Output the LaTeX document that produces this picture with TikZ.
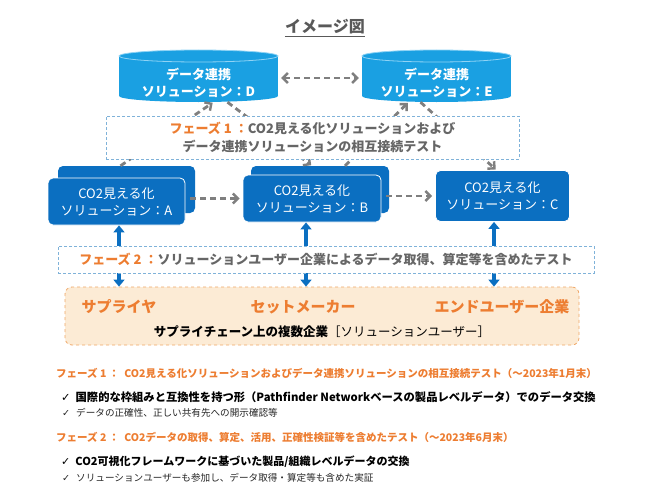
\documentclass[tikz,border=0pt]{standalone}
\usepackage{fontspec}
\setmainfont{Noto Sans CJK JP}
\newfontfamily\dejavu{DejaVu Sans}
\usetikzlibrary{arrows.meta}
\definecolor{cylblue}{HTML}{1AA0E2}
\definecolor{cylrim}{HTML}{8FD3F5}
\definecolor{boxblue}{HTML}{0B6FC1}
\definecolor{orng}{HTML}{ED7D31}
\definecolor{txtgray}{HTML}{666666}
\definecolor{titlegray}{HTML}{595959}
\definecolor{arrgray}{HTML}{7F7F7F}
\definecolor{phaseborder}{HTML}{7FB2D9}
\definecolor{scfill}{HTML}{FCEBD5}
\definecolor{scborder}{HTML}{F0A868}
\tikzset{
  cyltext/.style={text=white, font=\fontsize{13}{17}\selectfont\bfseries, align=center, minimum width=159pt, minimum height=38pt, inner sep=0pt},
  solbox/.style={fill=boxblue, rounded corners=5pt, text=white, align=center, font=\fontsize{13}{17}\selectfont, inner sep=0pt},
  frontbox/.style={solbox, draw=white, line width=0.8pt},
  phasebox/.style={draw=phaseborder, densely dashed, line width=0.6pt, fill=white, align=center, inner sep=0pt},
  graydash/.style={draw=arrgray, line width=2.8pt, dash pattern=on 6pt off 4pt, -{Straight Barb[length=5pt,width=10pt,line width=2.4pt]}},
  bluearr/.style={draw=boxblue, line width=3.2pt, {Triangle[length=7pt,width=11pt]}-{Triangle[length=7pt,width=11pt]}},
  sclabel/.style={text=orng, font=\fontsize{15}{18}\selectfont\bfseries, inner sep=0pt},
  lineleft/.style={anchor=west, inner sep=0pt},
}
\begin{document}
\begin{tikzpicture}[x=1pt,y=-1pt]
\useasboundingbox[fill=white] (0,0) rectangle (647,503);

% title
\node[text=titlegray, font=\fontsize{16}{18}\selectfont\bfseries, inner sep=0pt] (title) at (325,27) {イメージ図};
\draw[titlegray, line width=1pt] ([yshift=-4pt]title.base west) -- ([yshift=-4pt]title.base east);

% cylinders
\foreach \cx/\hw in {198.5/79.5, 436.5/74.5}{
  \fill[cylblue] (\cx-\hw,56) rectangle (\cx+\hw,96);
  \fill[cylblue] (\cx,96) ellipse [x radius=\hw, y radius=6];
  \filldraw[fill=cylblue, draw=cylrim, line width=0.8pt] (\cx,56) ellipse [x radius=\hw, y radius=6];
}
\node[cyltext] (D) at (198.5,83) {データ連携\\ソリューション：D};
\node[cyltext, minimum width=149pt] (E) at (436.5,83) {データ連携\\ソリューション：E};

% solution boxes
\node[solbox, minimum width=137pt, minimum height=47pt] (Aback) at (126.5,189.5) {};
\node[frontbox, minimum width=137pt, minimum height=47pt] (A) at (116.5,201.5) {CO2見える化\\ソリューション：A};
\node[solbox, minimum width=138pt, minimum height=47pt] (Bback) at (320,189.5) {};
\node[frontbox, minimum width=138pt, minimum height=47pt] (B) at (312,198.5) {CO2見える化\\ソリューション：B};
\node[frontbox, minimum width=134pt, minimum height=51pt] (C) at (502.5,196) {CO2見える化\\ソリューション：C};

% diagonal phase-1 arrows (behind phase box)
\draw[graydash, shorten >=1pt] ([xshift=-6pt]Aback.north) -- ([xshift=15pt]D.south);
\draw[graydash, shorten >=1pt] ([xshift=29pt]D.south) -- ([xshift=-8pt]Bback.north);
\draw[graydash, shorten >=1pt] ([xshift=25pt]Bback.north) -- ([xshift=-28pt]E.south);
\draw[graydash, shorten >=1pt] ([xshift=-16pt]E.south) -- ([xshift=-6pt]C.north);

% D <-> E
\draw[graydash, {Straight Barb[length=5pt,width=10pt,line width=2.4pt]}-{Straight Barb[length=5pt,width=10pt,line width=2.4pt]}, shorten <=3pt, shorten >=3pt] ([yshift=5pt]D.east) -- ([yshift=5pt]E.west);

% phase 1 box
\node[phasebox, minimum width=413pt, minimum height=43pt, font=\fontsize{13}{18}\selectfont\bfseries, text=txtgray] (P1) at (312.5,137.5)
  {\textcolor{orng}{フェーズ 1 ：}CO2見える化ソリューションおよび\\データ連携ソリューションの相互接続テスト};

% A->B, B->C
\draw[graydash, shorten <=5pt, shorten >=3pt] (B.west -| A.east) -- (B.west);
\draw[graydash, shorten <=5pt, shorten >=3pt] (C.west -| B.east) -- (C.west);

% supply chain box
\node[draw=scborder, dashed, fill=scfill, rounded corners=7pt, line width=0.8pt, minimum width=514pt, minimum height=58pt] (SC) at (322,316) {};
\node[sclabel] (sup) at (119,307) {サプライヤ};
\node[sclabel] (set) at (303,307) {セットメーカー};
\node[sclabel] (end) at (502,307) {エンドユーザー企業};
\node[inner sep=0pt, font=\fontsize{12.5}{15}\selectfont] (scl) at (322,332) {\textbf{サプライチェーン上の複数企業}［ソリューションユーザー］};

% blue double arrows
\draw[bluearr] ([xshift=2.5pt]A.south) -- ([xshift=2.5pt]A.south |- SC.north);
\draw[bluearr] ([xshift=-6pt]B.south) -- ([xshift=-6pt]B.south |- SC.north);
\draw[bluearr] ([xshift=-8.5pt]C.south) -- ([xshift=-8.5pt]C.south |- SC.north);

% phase 2 box
\node[phasebox, minimum width=536pt, minimum height=27pt, font=\fontsize{13}{16}\selectfont\bfseries, text=txtgray] (P2) at (326,259.5)
  {\textcolor{orng}{フェーズ 2 ：}ソリューションユーザー企業によるデータ取得、算定等を含めたテスト};

% bottom text
\node[lineleft, text=orng, font=\fontsize{10.5}{13}\selectfont\bfseries] (l1) at (56,373)
  {フェーズ 1 ：\hspace{5pt}CO2見える化ソリューションおよびデータ連携ソリューションの相互接続テスト（～2023年1月末）};
\node[lineleft, font=\fontsize{11.3}{13}\selectfont\bfseries] (l2) at (61,397)
  {{\dejavu\mdseries ✓}\hspace{5pt}国際的な枠組みと互換性を持つ形（Pathfinder Networkベースの製品レベルデータ）でのデータ交換};
\node[lineleft, font=\fontsize{9.6}{11}\selectfont, text=black!85] (l3) at (62,413)
  {{\dejavu ✓}\hspace{6pt}データの正確性、正しい共有先への開示確認等};
\node[lineleft, text=orng, font=\fontsize{10.5}{13}\selectfont\bfseries] (l4) at (56,437)
  {フェーズ 2 ：\hspace{5pt}CO2データの取得、算定、活用、正確性検証等を含めたテスト（～2023年6月末）};
\node[lineleft, font=\fontsize{11}{13}\selectfont\bfseries] (l5) at (61,462)
  {{\dejavu\mdseries ✓}\hspace{5pt}CO2可視化フレームワークに基づいた製品/組織レベルデータの交換};
\node[lineleft, font=\fontsize{9.6}{11}\selectfont, text=black!85] (l6) at (62,478)
  {{\dejavu ✓}\hspace{6pt}ソリューションユーザーも参加し、データ取得・算定等も含めた実証};
\end{tikzpicture}
\end{document}
